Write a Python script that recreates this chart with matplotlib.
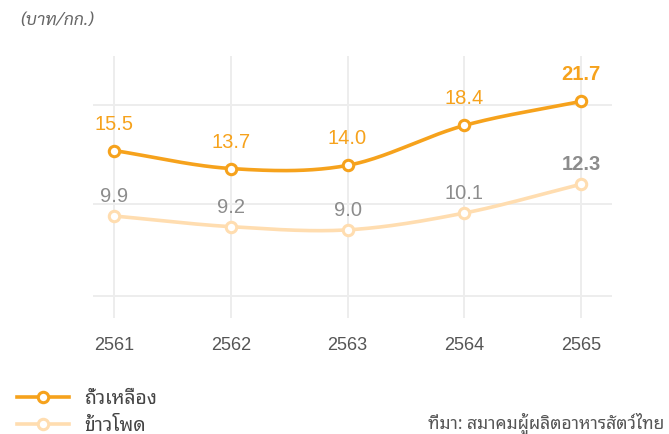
import matplotlib
matplotlib.use("Agg")
import matplotlib.pyplot as plt
from matplotlib.lines import Line2D
import numpy as np

# ---- data ----
years = [2561, 2562, 2563, 2564, 2565]
year_labels = ["2561", "2562", "2563", "2564", "2565"]
soy = [15.5, 13.7, 14.0, 18.4, 21.7]
corn = [9.9, 9.2, 9.0, 10.1, 12.3]
soy_name = "ถั่วเหลือง"
corn_name = "ข้าวโพด"
unit_label = "(บาท/กก.)"
source_label = "ที่มา: สมาคมผู้ผลิตอาหารสัตว์ไทย"
grid_values = [5.72, 10.75, 21.17]

SOY_C = "#F6A21C"
CORN_C = "#FFDDB0"
SOY_TXT = "#F6A21C"
CORN_TXT = "#8C8C8C"
GRID_C = "#EDEDED"
THAI = ["Noto Sans Thai Looped", "Noto Sans Thai", "DejaVu Sans"]
THAI_IT = ["Sarabun", "Noto Sans Thai Looped", "DejaVu Sans"]
NUM = ["Liberation Sans", "DejaVu Sans"]

W, H = 669, 435
fig = plt.figure(figsize=(W / 100, H / 100), dpi=100)
ax = fig.add_axes([93 / W, 1 - 319 / H, (612 - 93) / W, (319 - 57) / H])
ax.set_yscale("log")
ax.set_xlim(2560.82, 2565.265)
ax.set_ylim(4.922, 29.61)

for s in ax.spines.values():
    s.set_visible(False)
ax.set_xticks(years)
ax.set_xticklabels(year_labels, fontsize=13, color="#555555", family=NUM)
ax.set_yticks(grid_values)
ax.set_yticks([], minor=True)
ax.set_yticklabels([])
ax.tick_params(length=0, axis="both", which="both")
ax.tick_params(axis="x", pad=13)
ax.grid(True, color=GRID_C, lw=1.4)
ax.set_axisbelow(True)


def smooth(xs, ys, n=40):
    xs = np.asarray(xs, float)
    ly = np.log(np.asarray(ys, float))
    k = len(xs)
    m = np.zeros(k)
    for i in range(k):
        if i == 0:
            m[i] = (ly[1] - ly[0]) / (xs[1] - xs[0])
        elif i == k - 1:
            m[i] = (ly[-1] - ly[-2]) / (xs[-1] - xs[-2])
        else:
            m[i] = (ly[i + 1] - ly[i - 1]) / (xs[i + 1] - xs[i - 1])
    ox, oy = [], []
    for i in range(k - 1):
        h = xs[i + 1] - xs[i]
        t = np.linspace(0, 1, n, endpoint=(i == k - 2))
        h00 = 2 * t**3 - 3 * t**2 + 1
        h10 = t**3 - 2 * t**2 + t
        h01 = -2 * t**3 + 3 * t**2
        h11 = t**3 - t**2
        yy = h00 * ly[i] + h10 * h * m[i] + h01 * ly[i + 1] + h11 * h * m[i + 1]
        ox.extend(xs[i] + t * h)
        oy.extend(np.exp(yy))
    return ox, oy


for vals, col, txtc, off in [(corn, CORN_C, CORN_TXT, 15), (soy, SOY_C, SOY_TXT, 22)]:
    sx, sy = smooth(years, vals)
    ax.plot(sx, sy, color=col, lw=2.6, solid_capstyle="round", zorder=3)
    ax.plot(years, vals, ls="none", marker="o", ms=7.5, mfc="white", mec=col, mew=2.2, zorder=4)
    for i, (x, v) in enumerate(zip(years, vals)):
        ax.annotate(f"{v:.1f}", (x, v), xytext=(0, off), textcoords="offset pixels",
                    ha="center", va="baseline", fontsize=14.5, color=txtc, family=NUM,
                    fontweight="bold" if i == len(vals) - 1 else "normal", zorder=5)

# unit label
fig.text(20 / W, 1 - 21 / H, unit_label, fontsize=12.5, color="#666666", style="italic",
         family=THAI_IT, va="center", ha="left")

# legend
handles = [
    Line2D([], [], color=SOY_C, lw=2.6, marker="o", ms=7.5, mfc="white", mec=SOY_C, mew=2.2),
    Line2D([], [], color=CORN_C, lw=2.6, marker="o", ms=7.5, mfc="white", mec=CORN_C, mew=2.2),
]
leg = fig.legend(handles, [soy_name, corn_name], loc="center left",
                 bbox_to_anchor=(17 / W, 1 - 413 / H), frameon=False,
                 prop={"family": THAI, "size": 14}, handlelength=2.65, handletextpad=0.8,
                 labelspacing=0.36, borderpad=0, borderaxespad=0, numpoints=1)
for t in leg.get_texts():
    t.set_color("#444444")

fig.text(664 / W, 1 - 424 / H, source_label, fontsize=12.6, color="#555555",
         family=THAI, ha="right", va="center")

fig.savefig("out.png", dpi=100)
